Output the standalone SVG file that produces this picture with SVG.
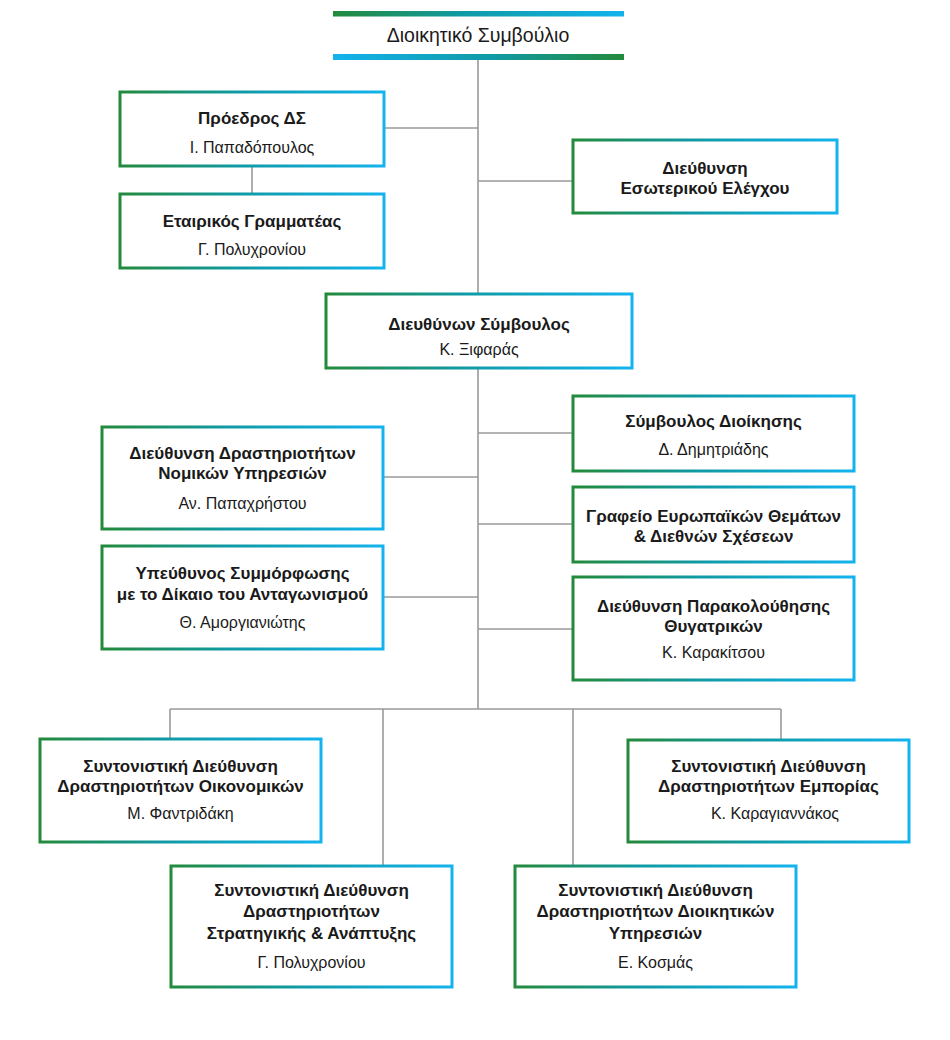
<svg xmlns="http://www.w3.org/2000/svg" width="950" height="1040" viewBox="0 0 950 1040">
<defs>
<linearGradient id="gb" x1="0" y1="0" x2="1" y2="0">
<stop offset="0" stop-color="#238a3b"/>
<stop offset="0.45" stop-color="#109aa5"/>
<stop offset="1" stop-color="#13b3ee"/>
</linearGradient>
<linearGradient id="gr" x1="0" y1="0" x2="1" y2="0">
<stop offset="0" stop-color="#13b3ee"/>
<stop offset="0.55" stop-color="#109aa5"/>
<stop offset="1" stop-color="#238a3b"/>
</linearGradient>
</defs>
<style>
.box{fill:#fff;stroke:url(#gb);stroke-width:3}
.ln{stroke:#9a9a9a;stroke-width:1.6;fill:none}
text{font-family:"Liberation Sans",Arial,sans-serif;fill:#1a1a1a;text-anchor:middle}
.t{font-weight:bold;font-size:17px}
.n{font-size:16px}
.h{font-size:19.5px}
</style>
<rect width="950" height="1040" fill="#fff"/>
<g id="connectors">
<path class="ln" d="M478 60V709"/>
<path class="ln" d="M384 128H478"/>
<path class="ln" d="M252 166V194"/>
<path class="ln" d="M478 181H573"/>
<path class="ln" d="M478 433H573"/>
<path class="ln" d="M478 524H573"/>
<path class="ln" d="M478 629H573"/>
<path class="ln" d="M383 477H478"/>
<path class="ln" d="M383 597H478"/>
<path class="ln" d="M170 709H781"/>
<path class="ln" d="M170 709V739"/>
<path class="ln" d="M383 709V866"/>
<path class="ln" d="M573 709V866"/>
<path class="ln" d="M781 709V740"/>
</g>
<g id="board">
<rect x="333" y="11" width="291" height="5.5" fill="url(#gb)"/>
<rect x="333" y="54" width="291" height="6" fill="url(#gr)"/>
<text class="h" x="478" y="42">Διοικητικό Συμβούλιο</text>
</g>
<g id="chairman">
<rect class="box" x="120" y="92" width="264" height="74"/>
<text class="t" x="252" y="124">Πρόεδρος ΔΣ</text>
<text class="n" x="252" y="153">Ι. Παπαδόπουλος</text>
</g>
<g id="secretary">
<rect class="box" x="120" y="194" width="264" height="74"/>
<text class="t" x="252" y="227">Εταιρικός Γραμματέας</text>
<text class="n" x="252" y="255">Γ. Πολυχρονίου</text>
</g>
<g id="audit">
<rect class="box" x="573" y="140" width="264" height="73"/>
<text class="t" x="705" y="174">Διεύθυνση</text>
<text class="t" x="705" y="194">Εσωτερικού Ελέγχου</text>
</g>
<g id="ceo">
<rect class="box" x="326" y="294" width="306" height="74"/>
<text class="t" x="479" y="330">Διευθύνων Σύμβουλος</text>
<text class="n" x="479" y="355">Κ. Ξιφαράς</text>
</g>
<g id="advisor">
<rect class="box" x="573" y="396" width="281" height="75"/>
<text class="t" x="713.5" y="427">Σύμβουλος Διοίκησης</text>
<text class="n" x="713.5" y="455">Δ. Δημητριάδης</text>
</g>
<g id="european">
<rect class="box" x="573" y="487" width="281" height="75"/>
<text class="t" x="713.5" y="522">Γραφείο Ευρωπαϊκών Θεμάτων</text>
<text class="t" x="713.5" y="542">&amp; Διεθνών Σχέσεων</text>
</g>
<g id="subsidiaries">
<rect class="box" x="573" y="577" width="281" height="103"/>
<text class="t" x="713.5" y="612">Διεύθυνση Παρακολούθησης</text>
<text class="t" x="713.5" y="632">Θυγατρικών</text>
<text class="n" x="713.5" y="658">Κ. Καρακίτσου</text>
</g>
<g id="legal">
<rect class="box" x="102" y="427" width="281" height="102"/>
<text class="t" x="242.5" y="459">Διεύθυνση Δραστηριοτήτων</text>
<text class="t" x="242.5" y="479">Νομικών Υπηρεσιών</text>
<text class="n" x="242.5" y="509">Αν. Παπαχρήστου</text>
</g>
<g id="compliance">
<rect class="box" x="102" y="546" width="281" height="103"/>
<text class="t" x="242.5" y="579">Υπεύθυνος Συμμόρφωσης</text>
<text class="t" x="242.5" y="600">με το Δίκαιο του Ανταγωνισμού</text>
<text class="n" x="242.5" y="628">Θ. Αμοργιανιώτης</text>
</g>
<g id="finance">
<rect class="box" x="40" y="739" width="281" height="103"/>
<text class="t" x="180.5" y="772">Συντονιστική Διεύθυνση</text>
<text class="t" x="180.5" y="792">Δραστηριοτήτων Οικονομικών</text>
<text class="n" x="180.5" y="819">Μ. Φαντριδάκη</text>
</g>
<g id="commerce">
<rect class="box" x="628" y="740" width="281" height="102"/>
<text class="t" x="768.5" y="772">Συντονιστική Διεύθυνση</text>
<text class="t" x="768.5" y="792">Δραστηριοτήτων Εμπορίας</text>
<text class="n" x="775" y="819">Κ. Καραγιαννάκος</text>
</g>
<g id="strategy">
<rect class="box" x="171" y="866" width="281" height="121"/>
<text class="t" x="311.5" y="896">Συντονιστική Διεύθυνση</text>
<text class="t" x="311.5" y="917">Δραστηριοτήτων</text>
<text class="t" x="311.5" y="939">Στρατηγικής &amp; Ανάπτυξης</text>
<text class="n" x="311.5" y="968">Γ. Πολυχρονίου</text>
</g>
<g id="admin">
<rect class="box" x="515" y="866" width="281" height="121"/>
<text class="t" x="655.5" y="896">Συντονιστική Διεύθυνση</text>
<text class="t" x="655.5" y="917">Δραστηριοτήτων Διοικητικών</text>
<text class="t" x="655.5" y="939">Υπηρεσιών</text>
<text class="n" x="655.5" y="968">Ε. Κοσμάς</text>
</g>
</svg>
